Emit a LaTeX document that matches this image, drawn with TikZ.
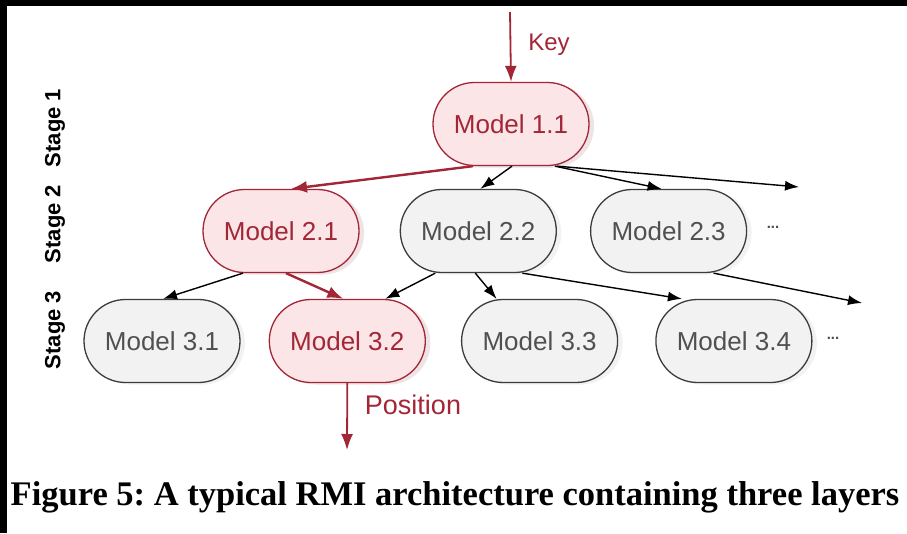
\documentclass[tikz,border=0pt]{standalone}
\usepackage{fontspec}
\setmainfont{Liberation Serif}
\setsansfont{Liberation Sans}
\usepackage{tikz}
\usetikzlibrary{arrows.meta, positioning, shadows}
\definecolor{rmired}{RGB}{163,38,54}
\definecolor{rmipink}{RGB}{251,229,231}
\definecolor{rmigray}{RGB}{242,242,242}
\definecolor{rmiline}{RGB}{60,60,60}
\definecolor{rmitext}{RGB}{80,80,80}
\tikzset{
    model/.style={rectangle, rounded corners=41.5pt, draw=rmiline, fill=rmigray, text=rmitext, line width=1.3pt, minimum width=156pt, minimum height=83pt, font=\sffamily\fontsize{26}{26}\selectfont, drop shadow={shadow xshift=5pt, shadow yshift=-2pt, opacity=.25, fill=gray!40}},
    model_hot/.style={model, draw=rmired, fill=rmipink, text=rmired, drop shadow={shadow xshift=5pt, shadow yshift=-2pt, opacity=.35, fill=rmired!25}},
    stage/.style={rotate=90, font=\sffamily\bfseries\fontsize{22}{22}\selectfont},
    io/.style={text=rmired, font=\sffamily\fontsize{24}{24}\selectfont},
    more/.style={text=rmitext, anchor=base, font=\sffamily\bfseries\fontsize{15}{15}\selectfont},
    arrow/.style={-{Latex[length=14pt, width=10pt]}, line width=1.4pt, draw=black},
    arrow_hot/.style={-{Latex[length=16pt, width=12pt]}, line width=2.4pt, draw=rmired}
}
\begin{document}
\begin{tikzpicture}[x=1pt, y=-1pt, node distance=35pt and 35pt]
    \useasboundingbox (0,0) rectangle (907,533);
    \fill[black] (0,0) rectangle (907,533);
    \fill[white] (7,6) rectangle (907,533);

    % Stage labels
    \node (s1) [stage] at (55,128) {Stage 1};
    \node (s2) [stage] at (55,224) {Stage 2};
    \node (s3) [stage] at (55,330) {Stage 3};

    % Stage 1
    \node (m11) [model_hot] at (511,124) {Model 1.1};
    \coordinate (key) at (510,12);
    \draw [arrow_hot, line width=1.8pt] (key) -- (m11.north);
    \node (keytxt) [io] at (549,45) {Key};

    % Stage 2
    \node (m21) [model_hot] at (281,231) {Model 2.1};
    \node (m22) [model, right=40pt of m21] {Model 2.2};
    \node (m23) [model, right=33pt of m22] {Model 2.3};
    \node (more2) [more] at (773,228) {...};
    \coordinate (out2) at (799,187);
    \draw [arrow_hot] ([xshift=-38pt]m11.south) -- ([xshift=10pt]m21.north);
    \draw [arrow] ([xshift=1pt]m11.south) -- ([xshift=2pt]m22.north);
    \draw [arrow] ([xshift=44pt]m11.south) -- ([xshift=-7pt]m23.north);
    \draw [arrow] ([xshift=46pt]m11.south) -- (out2);

    % Stage 3
    \node (m31) [model] at (162,341) {Model 3.1};
    \node (m32) [model_hot, right=28pt of m31] {Model 3.2};
    \node (m33) [model, right=35pt of m32] {Model 3.3};
    \node (m34) [model, right=37pt of m33] {Model 3.4};
    \node (more3) [more] at (833,339) {...};
    \coordinate (out3) at (862,303);
    \draw [arrow] ([xshift=-38pt]m21.south) -- ([xshift=1pt]m31.north);
    \draw [arrow_hot] ([xshift=5pt]m21.south) -- ([xshift=-4pt]m32.north);
    \draw [arrow] ([xshift=-43pt]m22.south) -- ([xshift=38pt]m32.north);
    \draw [arrow] ([xshift=-3pt]m22.south) -- ([xshift=-43pt]m33.north);
    \draw [arrow] ([xshift=44pt]m22.south) -- ([xshift=-52pt]m34.north);
    \draw [arrow] ([xshift=45pt]m23.south) -- (out3);

    % Output
    \coordinate (pos) at (347,450);
    \draw [arrow_hot, line width=1.8pt] (m32.south) -- (pos);
    \node (postxt) [io, font=\sffamily\fontsize{27}{27}\selectfont] at (413,405) {Position};

    % Caption
    \node (cap) at (455,497) {\frenchspacing\bfseries\fontsize{34.5}{34.5}\selectfont Figure 5: A typical RMI architecture containing three layers};
\end{tikzpicture}
\end{document}
